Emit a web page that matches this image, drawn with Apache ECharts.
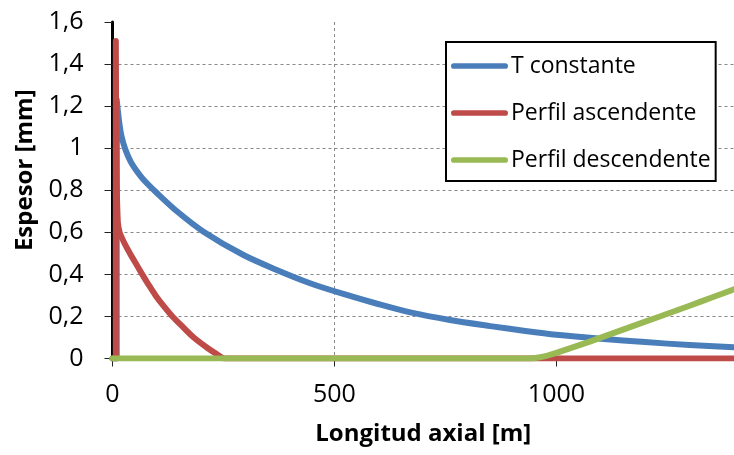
<!DOCTYPE html>
<html>
<head>
<meta charset="utf-8">
<script src="https://cdn.jsdelivr.net/npm/echarts@6/dist/echarts.min.js"></script>
<style>
  html, body { margin: 0; padding: 0; background: #fff; }
  #chart { width: 734px; height: 455px; }
</style>
</head>
<body>
<div id="chart"></div>
<script>
// Espesor [mm] a lo largo de la longitud axial [m] para los tres perfiles
const nombres = ['T constante', 'Perfil ascendente', 'Perfil descendente'];
const colores = ['#4A7EBB', '#BE4B48', '#98B954'];

const xConstante = [0, 9.5, 9.5, 12, 16, 20, 28, 40, 55, 70, 100, 145, 205, 295, 370, 445, 520, 600, 671, 760, 851, 930, 1000, 1100, 1200, 1300, 1400];
const yConstante = [0, 0, 1.23, 1.18, 1.11, 1.06, 1.0, 0.94, 0.89, 0.85, 0.787, 0.70, 0.603, 0.492, 0.421, 0.358, 0.307, 0.258, 0.219, 0.183, 0.154, 0.131, 0.113, 0.094, 0.078, 0.064, 0.053];

const xAscendente = [0, 7.5, 7.5, 9, 12, 16, 22, 30, 40, 52, 67, 80, 97, 115, 135, 160, 183, 214, 234, 252, 1400];
const yAscendente = [0, 0, 1.51, 0.9, 0.65, 0.6, 0.57, 0.535, 0.497, 0.454, 0.40, 0.355, 0.30, 0.25, 0.2, 0.147, 0.1, 0.05, 0.022, 0, 0];

const xDescendente = [0, 940, 960, 980, 1000, 1050, 1100, 1150, 1200, 1250, 1300, 1350, 1400];
const yDescendente = [0, 0, 0.005, 0.014, 0.027, 0.062, 0.099, 0.137, 0.175, 0.213, 0.251, 0.29, 0.329];

const xTicks = [0, 500, 1000];
const xMax = 1400;
const yMax = 1.6;
const yPaso = 0.2;

const FUENTE = 'Open Sans';

function pares(xs, ys) {
  return xs.map((x, i) => [x, ys[i]]);
}

const datos = [
  pares(xConstante, yConstante),
  pares(xAscendente, yAscendente),
  pares(xDescendente, yDescendente)
];

const chart = echarts.init(document.getElementById('chart'), null, { renderer: 'canvas' });

chart.setOption({
  animation: false,
  backgroundColor: '#fff',
  grid: { left: 112.5, right: 0, top: 22, bottom: 96.5 },
  xAxis: [
    {
      type: 'value',
      min: 0,
      max: xMax,
      interval: 500,
      position: 'bottom',
      name: 'Longitud axial [m]',
      nameLocation: 'middle',
      nameGap: 64,
      nameTextStyle: { fontFamily: FUENTE, fontSize: 24, fontWeight: 'bold', color: '#000' },
      axisLine: { show: true, onZero: false, lineStyle: { color: '#000', width: 1 } },
      axisTick: { show: true, length: 8, customValues: xTicks, lineStyle: { color: '#222', width: 1 } },
      axisLabel: {
        customValues: xTicks, margin: 24, fontFamily: FUENTE, fontSize: 25, color: '#000',
        formatter: v => String(v)
      },
      splitLine: {
        show: true, showMinLine: false, showMaxLine: false,
        lineStyle: { color: '#878787', width: 1, type: [3, 3] }
      }
    },
    {
      // borde superior del área de trazado
      type: 'value',
      min: 0,
      max: xMax,
      position: 'top',
      axisLine: { show: true, lineStyle: { color: '#000', width: 3 } },
      axisTick: { show: false },
      axisLabel: { show: false },
      splitLine: { show: false }
    }
  ],
  yAxis: {
    type: 'value',
    min: 0,
    max: yMax,
    interval: yPaso,
    name: 'Espesor [mm]',
    nameLocation: 'middle',
    nameRotate: 90,
    nameGap: 74,
    nameTextStyle: { fontFamily: FUENTE, fontSize: 24, fontWeight: 'bold', color: '#000', padding: [0, 0, 0, 40] },
    axisLine: { show: true, lineStyle: { color: '#000', width: 3 } },
    axisTick: { show: true, length: 8, lineStyle: { color: '#222', width: 1 } },
    axisLabel: {
      margin: 29,
      fontFamily: FUENTE,
      fontSize: 25,
      color: '#000',
      formatter: v => String(+v.toFixed(1)).replace('.', ',')
    },
    splitLine: {
      show: true, showMinLine: false, showMaxLine: false,
      lineStyle: { color: '#878787', width: 1, type: [3, 3] }
    }
  },
  legend: {
    orient: 'vertical',
    left: 446,
    top: 42,
    padding: [11, 5, 8, 5],
    itemGap: 21,
    itemWidth: 57,
    itemHeight: 6,
    borderColor: '#000',
    borderWidth: 2,
    backgroundColor: '#fff',
    icon: 'path://M5,0 H95 A5,5 0 0 1 95,10 H5 A5,5 0 0 1 5,0 Z',
    textStyle: { fontFamily: FUENTE, fontSize: 23, color: '#000', lineHeight: 26, padding: [0, 0, 0, -2] },
    data: nombres
  },
  series: nombres.map((nombre, i) => ({
    name: nombre,
    type: 'line',
    xAxisIndex: 0,
    data: datos[i],
    showSymbol: false,
    symbol: 'none',
    smooth: 0.3,
    color: colores[i],
    lineStyle: { color: colores[i], width: 6, cap: 'round', join: 'round' },
    z: 2 + i
  }))
});
</script>
</body>
</html>
